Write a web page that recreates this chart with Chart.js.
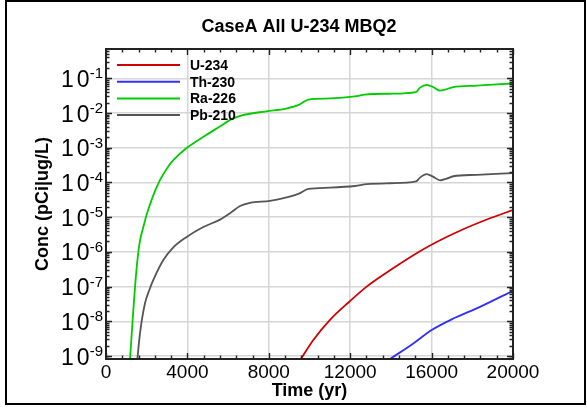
<!DOCTYPE html>
<html>
<head>
<meta charset="utf-8">
<script src="https://cdn.jsdelivr.net/npm/chart.js@4.4.0/dist/chart.umd.min.js"></script>
<style>
  html, body { margin: 0; padding: 0; background: #fff; }
  #wrap { width: 587px; height: 409px; }
</style>
</head>
<body>
<div id="wrap"><canvas id="conc-chart" width="587" height="409"></canvas></div>
<script>
// values
const seriesNames = ['U-234', 'Th-230', 'Ra-226', 'Pb-210'];

const u234Years = [9563, 10188, 11007, 11941, 12809, 13956, 15512, 17150, 18870, 20000];
const u234Conc  = [8e-10, 2.9e-9, 1.1e-8, 3.6e-8, 1.0e-7, 2.95e-7, 1.12e-6, 3.5e-6, 9.3e-6, 1.6e-5];

const th230Years = [13956, 15103, 16003, 17068, 18378, 20000];
const th230Conc  = [8.2e-10, 2.3e-9, 5.6e-9, 1.2e-8, 2.6e-8, 7.6e-8];

const ra226Years = [1180, 1340, 1500, 1650, 1835, 2000, 2300, 2620, 2820, 3110, 3310, 3930, 4910, 5570,
                    6220, 6720, 7860, 8850, 9500, 9940, 11007, 12236, 12727, 13956, 15233, 15430, 15758,
                    16085, 16413, 16658, 17068, 18215, 20000];
const ra226Conc  = [8e-10, 2.0e-8, 3.2e-7, 1.8e-6, 5.2e-6, 1.2e-5, 3.9e-5, 1.07e-4, 1.74e-4, 3.2e-4, 4.4e-4,
                    9.5e-4, 2.3e-3, 4.0e-3, 6.9e-3, 8.7e-3, 1.12e-2, 1.35e-2, 1.74e-2, 2.45e-2, 2.63e-2,
                    3.0e-2, 3.4e-2, 3.6e-2, 4.0e-2, 5.4e-2, 6.5e-2, 5.6e-2, 4.4e-2, 4.7e-2, 5.6e-2, 6.2e-2, 7.1e-2];

const pb210Years = [1540, 1670, 1916, 2130, 2326, 2817, 3308, 3964, 4783, 5602, 6093, 6585, 7076, 8059,
                    8878, 9451, 9943, 11007, 12236, 12809, 13956, 15233, 15430, 15758, 16085, 16413,
                    16740, 17068, 18215, 20000];
const pb210Conc  = [8e-10, 4.5e-9, 3.3e-8, 8e-8, 1.55e-7, 5.8e-7, 1.35e-6, 2.7e-6, 5.2e-6, 8.5e-6, 1.29e-5,
                    2.1e-5, 2.6e-5, 2.95e-5, 3.7e-5, 4.7e-5, 6.5e-5, 7.1e-5, 7.9e-5, 8.9e-5, 9.5e-5,
                    1.07e-4, 1.38e-4, 1.74e-4, 1.45e-4, 1.15e-4, 1.29e-4, 1.51e-4, 1.66e-4, 1.86e-4];

const yearTicks = [0, 4000, 8000, 12000, 16000, 20000];
const concTicks = [1e-9, 1e-8, 1e-7, 1e-6, 1e-5, 1e-4, 1e-3, 1e-2, 1e-1];

const lineColors = ['#d00000', '#2f2fff', '#00cc00', '#555555'];
const FONT = 'Arial, "Liberation Sans", sans-serif';

function toPoints(years, conc) {
    return years.map((t, i) => ({x: t, y: conc[i]}));
}

const decorations = {
    id: 'decorations',
    afterDraw(chart) {
        const {ctx, chartArea: {left, right, top, bottom}, scales: {x, y}} = chart;
        ctx.save();

        // plot frame
        ctx.strokeStyle = '#222';
        ctx.lineWidth = 2;
        ctx.strokeRect(left, top, right - left, bottom - top);

        // inward ticks, x: minor every 800
        ctx.lineWidth = 1.4;
        ctx.beginPath();
        for (let t = 0; t <= 20000; t += 800) {
            const px = Math.round(x.getPixelForValue(t)) + 0.5;
            const len = t % 4000 === 0 ? 6 : 3.5;
            ctx.moveTo(px, bottom); ctx.lineTo(px, bottom - len);
            ctx.moveTo(px, top); ctx.lineTo(px, top + len);
        }
        // inward ticks, y: 1..9 per decade
        for (let e = -10; e <= 0; e++) {
            for (let m = 1; m <= 9; m++) {
                const v = m * Math.pow(10, e);
                if (v < y.min || v > y.max) continue;
                const py = Math.round(y.getPixelForValue(v)) + 0.5;
                const len = m === 1 ? 6 : 3.5;
                ctx.moveTo(left, py); ctx.lineTo(left + len, py);
                ctx.moveTo(right, py); ctx.lineTo(right - len, py);
            }
        }
        ctx.stroke();

        ctx.fillStyle = '#000';

        // x tick labels
        ctx.font = '19px ' + FONT;
        ctx.textAlign = 'center';
        ctx.textBaseline = 'alphabetic';
        yearTicks.forEach(t => ctx.fillText(String(t), x.getPixelForValue(t), 378));

        // y tick labels 10^n
        concTicks.forEach(v => {
            const py = y.getPixelForValue(v);
            const exp = String(Math.round(Math.log10(v)));
            ctx.font = '15px ' + FONT;
            const ew = ctx.measureText(exp).width;
            ctx.textAlign = 'left';
            ctx.fillText(exp, 103 - ew, py);
            ctx.font = '23px ' + FONT;
            ctx.letterSpacing = '3px';
            ctx.textAlign = 'right';
            ctx.fillText('10', 103 - ew + 3, py + 8.5);
            ctx.letterSpacing = '0px';
        });

        // axis titles
        ctx.font = 'bold 18px ' + FONT;
        ctx.textAlign = 'center';
        ctx.fillText('Time (yr)', (left + right) / 2, 396);
        ctx.save();
        ctx.translate(48, (top + bottom) / 2);
        ctx.rotate(-Math.PI / 2);
        ctx.fillText('Conc (pCi|ug/L)', 0, 0);
        ctx.restore();

        // title
        ctx.font = 'bold 18px ' + FONT;
        ctx.fillText('CaseA All U-234 MBQ2', 299, 32);

        // legend
        ctx.font = 'bold 14px ' + FONT;
        ctx.textAlign = 'left';
        ctx.textBaseline = 'middle';
        seriesNames.forEach((name, i) => {
            const ly = 65 + i * 16.7;
            ctx.strokeStyle = lineColors[i];
            ctx.lineWidth = 2;
            ctx.beginPath();
            ctx.moveTo(117, ly); ctx.lineTo(180, ly);
            ctx.stroke();
            ctx.fillText(name, 190, ly + 1);
        });

        // outer border
        ctx.strokeStyle = '#000';
        ctx.lineWidth = 2;
        ctx.strokeRect(6, 1, 579, 403);

        ctx.restore();
    }
};

const seriesData = [
    toPoints(u234Years, u234Conc),
    toPoints(th230Years, th230Conc),
    toPoints(ra226Years, ra226Conc),
    toPoints(pb210Years, pb210Conc)
];

new Chart(document.getElementById('conc-chart'), {
    type: 'line',
    data: {
        datasets: seriesData.map((pts, i) => ({
            label: seriesNames[i],
            data: pts,
            borderColor: lineColors[i],
            borderWidth: 1.8,
            pointRadius: 0,
            fill: false,
            cubicInterpolationMode: 'monotone'
        }))
    },
    options: {
        responsive: false,
        animation: false,
        devicePixelRatio: 1,
        layout: {
            padding: {left: 0, right: 74, top: 49, bottom: 0}
        },
        plugins: {
            legend: {display: false},
            title: {display: false},
            tooltip: {enabled: false}
        },
        scales: {
            x: {
                type: 'linear',
                min: 0,
                max: 20000,
                ticks: {display: false},
                border: {display: false},
                grid: {color: '#d6d6d6', lineWidth: 1.5, drawTicks: false},
                afterBuildTicks: scale => { scale.ticks = yearTicks.map(v => ({value: v})); },
                afterFit: scale => { scale.height = 50; }
            },
            y: {
                type: 'logarithmic',
                min: 8.2e-10,
                max: 0.7,
                ticks: {display: false},
                border: {display: false},
                grid: {color: '#d6d6d6', lineWidth: 1.5, drawTicks: false},
                afterBuildTicks: scale => { scale.ticks = concTicks.map(v => ({value: v})); },
                afterFit: scale => { scale.width = 106; }
            }
        }
    },
    plugins: [decorations]
});
</script>
</body>
</html>
